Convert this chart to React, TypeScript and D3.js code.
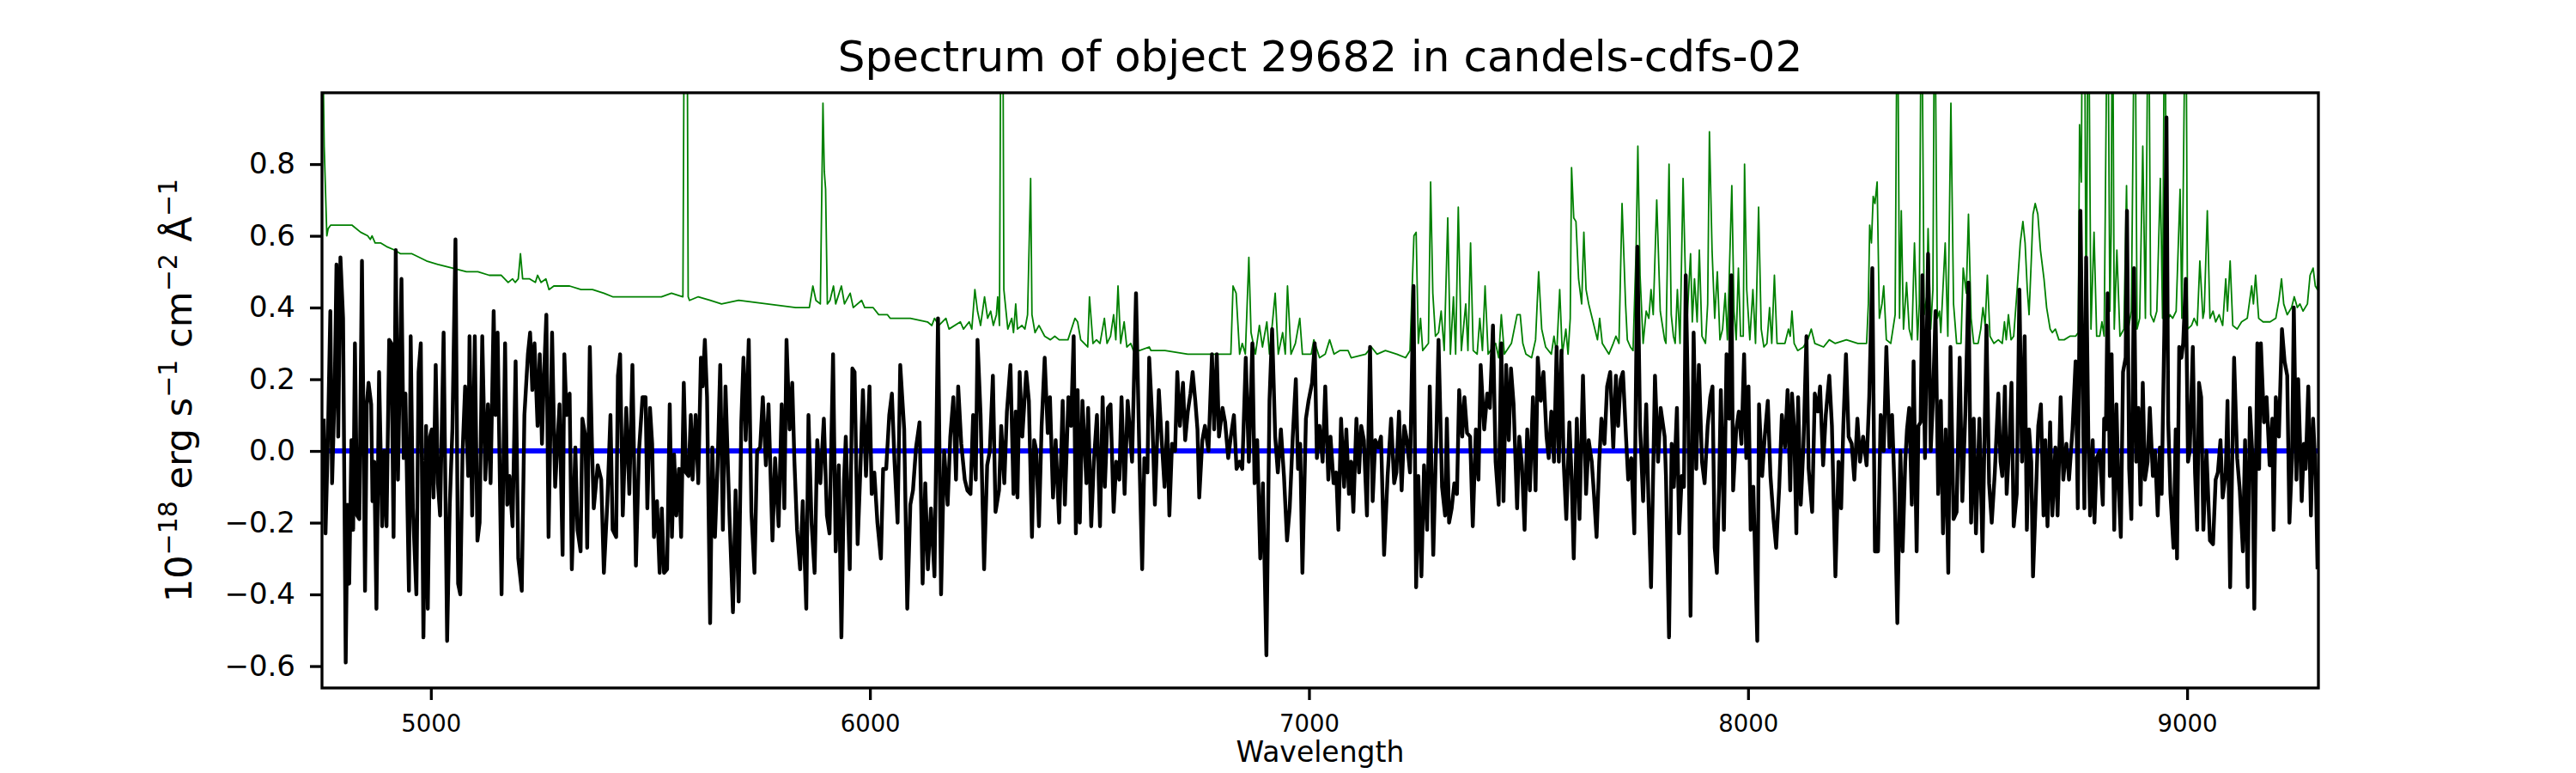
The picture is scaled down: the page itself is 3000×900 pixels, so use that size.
import { useEffect, useRef } from 'react';
import * as d3 from 'd3';

const WIDTH = 3000;
const HEIGHT = 900;
const margin = { top: 108, right: 300, bottom: 99, left: 375 };

const chartTitle = 'Spectrum of object 29682 in candels-cdfs-02';
const xLabel = 'Wavelength';

const wavelengthRange = [4752, 9299];
const fluxRange = [-0.661, 0.999];
const xTicks = [5000, 6000, 7000, 8000, 9000];
const yTicks = [-0.6, -0.4, -0.2, 0, 0.2, 0.4, 0.6, 0.8];

// [wavelength, flux]
const objectFlux: [number, number][] = [
  [4756, 0.09], [4760, -0.23], [4765, 0.01], [4771, 0.39], [4775, -0.09], [4781, 0.18], [4785, 0.52], [4789, 0.04],
  [4794, 0.54], [4800, 0.37], [4806, -0.59], [4810, -0.15], [4814, -0.37], [4819, 0.03], [4823, -0.22], [4827, 0.3],
  [4832, -0.18], [4837, -0.19], [4843, 0.53], [4850, -0.39], [4854, 0.13], [4858, 0.19], [4864, 0.13], [4867, -0.14],
  [4871, -0.03], [4876, -0.44], [4882, 0.22], [4889, -0.21], [4894, 0.0], [4899, -0.21], [4905, 0.31], [4910, 0.3],
  [4915, -0.24], [4920, 0.56], [4925, -0.08], [4933, 0.48], [4938, -0.02], [4942, 0.16], [4950, -0.39], [4954, 0.32],
  [4959, -0.16], [4967, -0.4], [4972, 0.22], [4977, 0.3], [4983, -0.52], [4989, 0.07], [4993, -0.44], [4998, 0.04],
  [5002, 0.06], [5006, -0.13], [5011, 0.24], [5016, -0.09], [5021, -0.18], [5029, 0.33], [5037, -0.53], [5043, -0.15],
  [5049, 0.06], [5056, 0.59], [5062, -0.37], [5067, -0.4], [5072, -0.01], [5078, 0.18], [5085, -0.07], [5088, 0.32],
  [5094, -0.18], [5100, 0.32], [5106, -0.25], [5111, -0.2], [5117, 0.32], [5124, -0.08], [5130, 0.13], [5136, -0.09],
  [5143, 0.39], [5147, 0.1], [5152, 0.33], [5161, -0.4], [5169, 0.3], [5174, -0.15], [5179, -0.07], [5186, -0.21],
  [5193, 0.25], [5199, -0.3], [5207, -0.39], [5213, 0.1], [5221, 0.27], [5226, 0.33], [5231, 0.17], [5236, 0.3],
  [5243, 0.07], [5248, 0.27], [5253, 0.02], [5257, 0.19], [5263, 0.38], [5268, -0.24], [5276, 0.33], [5283, -0.1],
  [5293, 0.13], [5300, -0.29], [5304, 0.27], [5309, 0.1], [5316, 0.16], [5321, -0.33], [5329, 0.01], [5334, -0.22],
  [5341, -0.28], [5345, 0.09], [5352, 0.04], [5356, -0.27], [5362, 0.29], [5367, 0.01], [5371, -0.16], [5380, -0.04],
  [5388, -0.08], [5394, -0.34], [5402, -0.14], [5409, 0.1], [5414, -0.22], [5422, -0.24], [5426, 0.21], [5431, 0.27],
  [5437, -0.18], [5445, 0.12], [5452, -0.12], [5459, 0.24], [5467, -0.32], [5474, 0.0], [5482, 0.15], [5489, 0.15],
  [5493, -0.16], [5499, 0.12], [5504, 0.02], [5508, -0.24], [5515, -0.14], [5521, -0.34],
  [5526, -0.16], [5531, -0.34], [5538, -0.33], [5544, 0.13], [5549, -0.24], [5554, -0.01], [5559, -0.18], [5565, -0.05],
  [5570, -0.24], [5576, 0.19], [5581, -0.06], [5587, -0.07], [5592, 0.1], [5596, -0.08], [5603, 0.1], [5609, -0.09],
  [5615, 0.26], [5619, 0.18], [5624, 0.31], [5629, 0.15], [5636, -0.48], [5641, 0.01], [5647, -0.24], [5653, -0.04],
  [5659, 0.24], [5665, -0.22], [5671, 0.18], [5680, -0.18], [5688, -0.45], [5694, -0.11], [5701, -0.42], [5707, 0.08],
  [5712, 0.26], [5717, 0.03], [5724, 0.31], [5730, -0.17], [5737, -0.34], [5743, 0.0], [5750, 0.01], [5756, 0.15],
  [5763, -0.04], [5769, 0.13], [5778, -0.25], [5784, -0.02], [5792, -0.21], [5799, 0.13], [5805, -0.16], [5810, 0.31],
  [5817, 0.06], [5823, 0.19], [5828, -0.03], [5834, -0.22], [5841, -0.33], [5847, -0.14], [5855, -0.44], [5860, 0.1],
  [5867, -0.2], [5874, -0.34], [5880, 0.03], [5887, -0.09], [5895, 0.09], [5902, -0.18], [5908, -0.23], [5916, 0.27],
  [5922, -0.28], [5929, -0.04], [5935, -0.52], [5941, -0.08], [5945, 0.04], [5954, -0.33], [5960, 0.23], [5965, 0.22],
  [5972, -0.26], [5978, -0.06], [5984, 0.17], [5991, -0.07], [5999, 0.18], [6004, -0.12], [6010, -0.06], [6017, -0.2],
  [6025, -0.3], [6030, -0.05], [6037, -0.05], [6044, 0.1], [6050, 0.16], [6056, -0.03], [6063, -0.2], [6069, 0.24],
  [6078, 0.06], [6085, -0.44], [6092, -0.15], [6098, -0.11], [6105, 0.01], [6113, 0.08], [6120, -0.37], [6126, -0.09],
  [6132, -0.33], [6139, -0.16], [6147, -0.35], [6155, 0.37], [6162, -0.4], [6169, 0.0], [6177, -0.15], [6183, 0.04],
  [6190, 0.15], [6196, -0.08], [6201, 0.18], [6208, 0.02], [6216, -0.08], [6222, -0.11], [6229, -0.12], [6235, 0.1],
  [6241, -0.08], [6245, 0.31], [6252, 0.1], [6260, -0.33], [6267, -0.04], [6273, 0.0], [6280, 0.21], [6286, -0.17],
  [6294, -0.11], [6299, 0.07], [6306, -0.09], [6312, 0.11], [6320, 0.24], [6327, -0.12], [6332, 0.11], [6336, -0.13],
  [6341, 0.22], [6347, 0.04], [6356, 0.22], [6362, 0.14], [6369, -0.24], [6374, 0.03], [6379, 0.0], [6385, -0.21],
  [6391, 0.07], [6398, 0.26], [6405, 0.05], [6410, 0.15], [6417, -0.13], [6423, 0.03], [6431, -0.2], [6439, 0.14],
  [6444, -0.15], [6452, 0.15], [6458, 0.07], [6464, 0.32], [6469, -0.23], [6473, 0.17], [6478, -0.2], [6484, 0.14],
  [6493, -0.09], [6497, 0.12], [6504, -0.21], [6510, -0.03], [6517, 0.1], [6524, -0.21], [6530, 0.15], [6535, -0.1],
  [6542, 0.12], [6548, 0.13], [6555, -0.17], [6561, -0.03], [6568, -0.08], [6573, 0.15], [6580, -0.12], [6587, 0.14],
  [6597, -0.03], [6606, 0.44], [6614, -0.03], [6620, -0.33], [6625, -0.02], [6632, -0.06], [6636, 0.26], [6643, 0.09],
  [6649, -0.15], [6658, 0.17], [6664, 0.04], [6671, -0.1], [6677, 0.08], [6682, -0.18], [6688, 0.02], [6695, 0.0],
  [6700, 0.22], [6706, 0.07], [6713, 0.19], [6718, 0.03], [6724, 0.11], [6730, 0.16], [6735, 0.22], [6741, 0.14],
  [6746, 0.06], [6750, -0.13], [6757, 0.03], [6763, 0.07], [6771, 0.0], [6779, 0.27], [6784, 0.06], [6790, 0.27],
  [6795, 0.04], [6803, 0.12], [6809, 0.08], [6816, -0.02], [6822, 0.04], [6829, 0.1], [6835, -0.05], [6842, -0.03],
  [6848, -0.05], [6856, 0.26], [6863, -0.03], [6871, 0.3], [6876, -0.09], [6882, 0.03], [6889, -0.3], [6895, -0.09],
  [6903, -0.57], [6910, 0.14], [6916, 0.34], [6923, 0.04], [6929, -0.06], [6936, 0.06], [6943, -0.07], [6950, -0.25],
  [6956, -0.16], [6963, 0.04], [6970, 0.2], [6975, -0.05], [6980, 0.02], [6985, -0.34], [6993, 0.09], [6999, 0.14],
  [7007, 0.19], [7013, 0.3], [7018, -0.02], [7024, 0.07], [7031, -0.03], [7037, 0.18], [7044, -0.08], [7049, 0.04],
  [7056, -0.09], [7062, -0.06], [7067, -0.22], [7073, 0.09], [7080, -0.1], [7085, 0.06], [7091, -0.12], [7096, -0.03],
  [7101, -0.17], [7108, 0.09], [7114, -0.06], [7119, 0.07], [7125, 0.03], [7132, -0.18], [7139, 0.29], [7145, -0.14],
  [7151, 0.03], [7158, 0.01], [7164, 0.04], [7171, -0.29], [7179, -0.07], [7187, 0.09], [7194, -0.09], [7199, -0.06],
  [7205, 0.11], [7211, -0.11], [7217, 0.07], [7223, 0.03], [7230, -0.06], [7238, 0.46], [7244, -0.38], [7249, -0.07],
  [7256, -0.35], [7262, -0.04], [7269, -0.22], [7275, 0.18], [7283, -0.29], [7290, 0.04], [7295, 0.31], [7303, -0.1],
  [7310, -0.18], [7314, 0.09], [7319, -0.2], [7325, -0.16], [7331, -0.09], [7337, -0.12], [7342, 0.17], [7349, 0.04],
  [7354, 0.15], [7360, 0.05], [7367, 0.04], [7373, -0.21], [7380, 0.06], [7386, -0.08], [7391, 0.24], [7399, 0.06],
  [7406, 0.16], [7412, 0.12], [7419, 0.35], [7425, -0.03], [7432, -0.15], [7438, 0.3], [7443, -0.14], [7449, 0.24],
  [7455, 0.03], [7460, 0.23], [7466, 0.13], [7474, -0.16], [7479, 0.04], [7485, -0.04], [7491, -0.22], [7497, 0.06],
  [7503, -0.11], [7510, 0.15], [7516, -0.11], [7521, 0.26], [7528, 0.14], [7534, 0.22], [7541, 0.04], [7546, -0.02],
  [7552, 0.11], [7558, -0.03], [7564, 0.29], [7569, -0.03], [7575, 0.28], [7580, -0.03], [7586, -0.19], [7593, 0.08],
  [7598, -0.07], [7603, -0.3], [7610, 0.09], [7616, -0.19], [7624, 0.21], [7631, -0.12], [7637, 0.03], [7644, -0.03],
  [7649, -0.12], [7655, -0.24], [7661, -0.03], [7666, 0.09], [7673, 0.02], [7679, 0.18], [7686, 0.22], [7693, 0.01],
  [7699, 0.21], [7704, 0.07], [7710, 0.2], [7715, 0.22], [7722, 0.04], [7727, -0.08], [7734, -0.02], [7741, -0.23],
  [7748, 0.57], [7754, 0.07], [7761, -0.14], [7768, 0.13], [7773, -0.13], [7779, -0.38], [7788, 0.21], [7795, -0.03],
  [7801, 0.12], [7810, 0.04],
  [7813, -0.07], [7820, -0.52], [7826, 0.02], [7831, -0.1], [7838, 0.12], [7843, -0.23], [7849, -0.07], [7854, -0.1],
  [7858, 0.49], [7864, 0.09], [7869, -0.46], [7876, 0.33], [7882, -0.05], [7888, 0.24], [7895, -0.03], [7901, -0.09],
  [7908, 0.07], [7914, 0.15], [7919, 0.18], [7924, -0.27], [7929, -0.34], [7934, -0.1], [7938, 0.17], [7945, -0.22],
  [7951, 0.27], [7957, 0.09], [7962, 0.49], [7966, -0.11], [7973, 0.06], [7979, 0.11], [7985, 0.02], [7991, 0.27],
  [7996, -0.02], [8001, 0.18], [8006, -0.22], [8012, -0.1], [8021, -0.53], [8025, 0.13], [8032, -0.07], [8038, 0.04],
  [8045, 0.14], [8051, -0.07], [8058, -0.19], [8064, -0.27], [8071, -0.1], [8077, 0.1], [8084, 0.01], [8090, 0.17],
  [8096, -0.11], [8100, 0.16], [8105, 0.06], [8110, -0.23], [8114, 0.15], [8120, -0.15], [8126, 0.01], [8133, 0.32],
  [8138, -0.05], [8146, -0.17], [8152, 0.16], [8159, 0.11], [8164, 0.18], [8171, -0.04], [8177, 0.1], [8185, 0.21],
  [8191, 0.07], [8199, -0.35], [8206, -0.03], [8212, -0.16], [8217, 0.07], [8223, 0.27], [8229, 0.04], [8236, 0.02],
  [8242, -0.08], [8249, 0.09], [8255, -0.03], [8262, 0.04], [8270, -0.04], [8276, 0.15], [8283, 0.51], [8289, -0.28],
  [8296, -0.28], [8302, 0.1], [8309, 0.0], [8315, 0.29], [8322, 0.01], [8328, 0.1], [8334, -0.12], [8340, -0.48],
  [8347, 0.0], [8352, -0.28], [8358, -0.03], [8362, 0.06], [8367, 0.12], [8373, -0.15], [8377, 0.25], [8384, -0.28],
  [8388, 0.07], [8393, 0.08], [8397, 0.49], [8403, -0.02], [8410, 0.55], [8416, 0.0], [8421, 0.14], [8427, 0.39],
  [8433, -0.12], [8439, 0.14], [8444, -0.23], [8450, 0.06], [8456, -0.34], [8461, 0.29], [8468, -0.19], [8475, -0.17],
  [8482, 0.26], [8488, -0.14], [8495, 0.11], [8502, 0.47], [8508, -0.2], [8514, 0.09], [8519, -0.23], [8527, 0.09],
  [8534, -0.28], [8543, 0.35], [8549, -0.09], [8555, -0.2], [8562, -0.06], [8570, 0.16], [8575, -0.03],
  [8579, -0.07], [8585, 0.18], [8589, -0.12], [8596, 0.05], [8600, 0.19], [8605, -0.21], [8612, -0.12], [8618, 0.45],
  [8624, -0.03], [8630, 0.32], [8635, -0.22], [8640, 0.06], [8645, -0.03], [8649, -0.35], [8654, -0.18], [8661, 0.07],
  [8667, 0.13], [8673, -0.18], [8677, 0.03], [8682, -0.21], [8688, 0.08], [8693, -0.18], [8700, 0.01], [8705, -0.18],
  [8712, 0.15], [8718, -0.08], [8725, 0.02], [8731, -0.08], [8739, 0.06], [8746, 0.25], [8751, -0.16], [8757, 0.67],
  [8762, 0.19], [8766, -0.16], [8770, 0.54], [8775, 0.04], [8779, -0.18], [8785, 0.03], [8789, -0.2], [8794, -0.02],
  [8801, 0.0], [8808, -0.15], [8811, 0.09], [8815, 0.06], [8819, 0.44], [8824, -0.07], [8828, 0.27], [8834, -0.22],
  [8839, 0.13], [8843, -0.07], [8849, -0.24], [8854, 0.22], [8860, 0.26], [8863, 0.67], [8868, -0.05], [8873, -0.19],
  [8879, 0.51], [8884, -0.03], [8889, 0.12], [8894, -0.15], [8899, 0.19], [8904, -0.08], [8910, -0.03], [8915, 0.12],
  [8922, -0.07], [8927, 0.0], [8933, -0.18], [8938, 0.01], [8942, -0.12], [8948, 0.33], [8953, 0.93], [8957, 0.08],
  [8962, -0.12], [8969, -0.27], [8974, 0.06], [8977, -0.3], [8982, 0.29], [8987, 0.26], [8991, 0.3], [8997, 0.48],
  [9002, -0.03], [9006, 0.0], [9013, 0.29], [9018, -0.06], [9023, -0.22], [9027, 0.19], [9032, 0.15], [9037, -0.22],
  [9044, 0.0], [9052, -0.25], [9059, -0.26], [9065, -0.08], [9070, -0.06], [9076, 0.03], [9081, -0.13], [9088, -0.06],
  [9092, 0.14], [9098, -0.38], [9103, -0.01], [9107, 0.26], [9114, -0.02], [9120, -0.11], [9127, -0.28], [9132, 0.03],
  [9138, -0.38], [9143, 0.12], [9149, -0.02], [9153, -0.44], [9160, 0.3], [9164, -0.05], [9168, 0.3], [9175, 0.08],
  [9181, 0.15], [9188, -0.04], [9194, 0.09], [9197, -0.22], [9202, 0.15], [9209, 0.04], [9216, 0.34], [9222, 0.25],
  [9228, 0.21], [9233, -0.2], [9239, -0.02], [9243, 0.4], [9249, -0.08], [9253, 0.2], [9261, -0.14], [9266, 0.02],
  [9270, -0.05], [9276, 0.18], [9282, -0.18], [9287, 0.09], [9293, -0.07], [9297, -0.33],
];

// [wavelength, flux] of the green curve (sky / noise spectrum)
const skySpectrum: [number, number][] = [
  [4752, 1.3], [4757, 0.85], [4763, 0.6], [4766, 0.62], [4772, 0.63], [4781, 0.63], [4801, 0.63], [4820, 0.63],
  [4840, 0.61], [4856, 0.6], [4862, 0.59], [4866, 0.6], [4873, 0.58], [4886, 0.58], [4899, 0.57], [4918, 0.56],
  [4931, 0.55], [4957, 0.55], [4990, 0.53], [5016, 0.52], [5049, 0.51], [5081, 0.5], [5107, 0.5], [5133, 0.49],
  [5160, 0.49], [5176, 0.47], [5186, 0.48], [5192, 0.47], [5199, 0.48], [5204, 0.55], [5209, 0.48], [5225, 0.48],
  [5238, 0.47], [5243, 0.49], [5251, 0.47], [5262, 0.48], [5269, 0.45], [5280, 0.46], [5296, 0.46], [5316, 0.46],
  [5342, 0.45], [5368, 0.45], [5394, 0.44], [5414, 0.43], [5459, 0.43], [5525, 0.43], [5548, 0.44], [5574, 0.43],
  [5578, 1.5], [5583, 1.5], [5586, 0.43], [5589, 0.42], [5609, 0.43], [5636, 0.42], [5662, 0.41], [5701, 0.42],
  [5766, 0.41], [5831, 0.4], [5862, 0.4], [5870, 0.46], [5877, 0.42], [5887, 0.41], [5893, 0.97], [5896, 0.78],
  [5899, 0.73], [5903, 0.41], [5909, 0.42], [5917, 0.46], [5922, 0.41], [5935, 0.46], [5942, 0.41], [5955, 0.44],
  [5962, 0.4], [5981, 0.42], [5988, 0.4], [6007, 0.4], [6020, 0.38], [6040, 0.38], [6046, 0.37], [6092, 0.37],
  [6131, 0.36], [6141, 0.35], [6147, 0.37], [6157, 0.35], [6173, 0.37], [6180, 0.34], [6206, 0.36], [6213, 0.34],
  [6226, 0.36], [6232, 0.34], [6239, 0.45], [6245, 0.39], [6252, 0.35], [6261, 0.43], [6268, 0.37], [6275, 0.39],
  [6281, 0.35], [6288, 0.38], [6291, 0.43], [6295, 0.35], [6299, 1.5], [6302, 1.5], [6305, 0.45], [6314, 0.34],
  [6323, 0.37], [6327, 0.33], [6332, 0.41], [6336, 0.34], [6346, 0.35], [6353, 0.34], [6359, 0.38], [6366, 0.76],
  [6369, 0.38], [6376, 0.33], [6385, 0.35], [6398, 0.32], [6411, 0.31], [6421, 0.32], [6431, 0.31], [6451, 0.31],
  [6467, 0.37], [6473, 0.36], [6480, 0.31], [6496, 0.29], [6500, 0.43], [6508, 0.3], [6516, 0.31], [6524, 0.3],
  [6534, 0.37], [6540, 0.3], [6548, 0.32], [6555, 0.38], [6560, 0.31], [6565, 0.46], [6571, 0.3], [6579, 0.36],
  [6585, 0.29], [6594, 0.3], [6600, 0.28], [6614, 0.28], [6636, 0.29], [6640, 0.28], [6672, 0.28], [6724, 0.27],
  [6763, 0.27], [6822, 0.27], [6827, 0.46], [6834, 0.44], [6842, 0.27], [6848, 0.3], [6855, 0.27], [6863, 0.54],
  [6868, 0.33], [6878, 0.27], [6887, 0.35], [6894, 0.29], [6904, 0.36], [6910, 0.27], [6923, 0.44], [6930, 0.27],
  [6940, 0.33], [6946, 0.27], [6951, 0.46], [6959, 0.27], [6969, 0.3], [6979, 0.37], [6985, 0.27], [7005, 0.27],
  [7011, 0.31], [7024, 0.26], [7037, 0.27], [7047, 0.31], [7057, 0.27], [7070, 0.28], [7089, 0.28], [7096, 0.26],
  [7129, 0.27], [7142, 0.29], [7155, 0.27], [7174, 0.28], [7200, 0.27], [7220, 0.26], [7230, 0.28], [7239, 0.6],
  [7244, 0.61], [7249, 0.3], [7254, 0.37], [7259, 0.28], [7272, 0.3], [7277, 0.75], [7282, 0.44], [7288, 0.32],
  [7295, 0.33], [7301, 0.39], [7308, 0.28], [7316, 0.65], [7322, 0.27], [7329, 0.43], [7334, 0.27], [7340, 0.68],
  [7347, 0.28], [7357, 0.41], [7362, 0.28], [7368, 0.58], [7374, 0.28], [7383, 0.27], [7389, 0.37], [7395, 0.28],
  [7401, 0.46], [7408, 0.27], [7419, 0.29], [7425, 0.3], [7432, 0.26], [7438, 0.38], [7445, 0.27], [7461, 0.3],
  [7474, 0.38], [7481, 0.38], [7487, 0.3], [7494, 0.27], [7507, 0.26], [7516, 0.31], [7523, 0.5], [7530, 0.34],
  [7539, 0.29], [7552, 0.27], [7558, 0.32], [7564, 0.27], [7571, 0.45], [7577, 0.27], [7585, 0.34], [7590, 0.27],
  [7595, 0.37], [7598, 0.79], [7603, 0.65], [7608, 0.64], [7614, 0.48], [7621, 0.41], [7626, 0.61], [7631, 0.45],
  [7637, 0.41], [7647, 0.36], [7657, 0.31], [7662, 0.37], [7668, 0.3], [7683, 0.27], [7693, 0.3], [7699, 0.32],
  [7706, 0.3], [7713, 0.69], [7721, 0.41], [7725, 0.31], [7732, 0.29], [7738, 0.28], [7745, 0.56], [7749, 0.85],
  [7754, 0.49], [7761, 0.3], [7768, 0.39], [7774, 0.37], [7779, 0.45], [7784, 0.38], [7792, 0.7], [7800, 0.39],
  [7810, 0.31], [7813, 0.3], [7820, 0.8], [7825, 0.38], [7830, 0.32], [7834, 0.3], [7839, 0.45], [7845, 0.3],
  [7852, 0.76], [7857, 0.5], [7861, 0.36], [7869, 0.55], [7873, 0.36], [7878, 0.48], [7884, 0.36], [7889, 0.56],
  [7895, 0.32], [7903, 0.3], [7908, 0.41], [7912, 0.89], [7918, 0.56], [7924, 0.37], [7930, 0.5], [7936, 0.31],
  [7942, 0.34], [7948, 0.44], [7953, 0.31], [7963, 0.74], [7968, 0.39], [7973, 0.31], [7978, 0.51], [7983, 0.32],
  [7989, 0.32], [7992, 0.8], [7997, 0.45], [8004, 0.31], [8011, 0.45], [8017, 0.3], [8024, 0.68], [8030, 0.34],
  [8036, 0.29], [8043, 0.3], [8049, 0.4], [8054, 0.3], [8060, 0.49], [8066, 0.3], [8074, 0.3], [8084, 0.3],
  [8092, 0.34], [8096, 0.32], [8100, 0.39], [8105, 0.3], [8113, 0.28], [8126, 0.29], [8136, 0.31], [8144, 0.34],
  [8152, 0.3], [8172, 0.29], [8185, 0.31], [8198, 0.3], [8224, 0.31], [8250, 0.3], [8270, 0.3], [8274, 0.41],
  [8277, 0.63], [8281, 0.58], [8285, 0.71], [8289, 0.69], [8294, 0.75], [8299, 0.37], [8305, 0.41], [8309, 0.46],
  [8315, 0.31], [8325, 0.3], [8335, 0.38], [8340, 1.4], [8345, 0.37], [8349, 0.67], [8354, 0.34], [8361, 0.47],
  [8367, 0.34], [8373, 0.31], [8379, 0.58], [8386, 0.31], [8390, 0.41], [8395, 1.4], [8401, 0.38], [8407, 0.43],
  [8410, 0.62], [8416, 0.34], [8421, 0.45], [8425, 1.4], [8431, 0.37], [8436, 0.39], [8439, 0.33], [8449, 0.58],
  [8455, 0.32], [8462, 0.97], [8468, 0.41], [8475, 0.3], [8485, 0.3], [8490, 0.51], [8497, 0.44], [8502, 0.66],
  [8508, 0.37], [8514, 0.3], [8524, 0.3], [8530, 0.34], [8535, 0.4], [8540, 0.35], [8545, 0.49], [8551, 0.32],
  [8560, 0.3], [8570, 0.31], [8579, 0.3], [8584, 0.36], [8588, 0.31], [8593, 0.38], [8599, 0.31], [8605, 0.32],
  [8614, 0.47], [8620, 0.58], [8626, 0.64], [8631, 0.58], [8636, 0.45], [8640, 0.38], [8645, 0.53], [8649, 0.66],
  [8654, 0.69], [8660, 0.66], [8666, 0.56], [8674, 0.48], [8680, 0.4], [8688, 0.34], [8693, 0.33], [8700, 0.34],
  [8708, 0.31], [8720, 0.31], [8733, 0.32], [8746, 0.32], [8752, 0.33], [8755, 0.91], [8759, 0.75], [8762, 1.4],
  [8766, 1.4], [8770, 0.32], [8775, 1.4], [8781, 0.34], [8788, 0.61], [8794, 0.32], [8801, 0.32], [8806, 0.36],
  [8811, 0.32], [8819, 1.4], [8824, 0.39], [8827, 0.61], [8830, 1.4], [8834, 0.34], [8840, 0.56], [8847, 0.32],
  [8856, 0.34], [8862, 0.74], [8866, 0.34], [8873, 0.39], [8881, 1.4], [8886, 0.34], [8892, 0.37], [8899, 0.85],
  [8905, 0.37], [8912, 1.4], [8917, 0.38], [8924, 0.36], [8931, 0.39], [8939, 0.76], [8944, 0.37], [8949, 1.4],
  [8954, 0.36], [8961, 0.38], [8967, 0.37], [8975, 0.39], [8984, 0.73], [8988, 0.37], [8997, 1.4], [9001, 0.34],
  [9010, 0.35], [9016, 0.37], [9023, 0.35], [9029, 0.53], [9036, 0.37], [9039, 0.39], [9046, 0.67], [9052, 0.37],
  [9059, 0.39], [9065, 0.36], [9073, 0.38], [9081, 0.35], [9088, 0.48], [9092, 0.39], [9098, 0.53], [9104, 0.35],
  [9114, 0.34], [9124, 0.36], [9137, 0.37], [9147, 0.46], [9151, 0.41], [9156, 0.49], [9163, 0.37], [9173, 0.36],
  [9189, 0.36], [9202, 0.37], [9209, 0.42], [9215, 0.48], [9220, 0.41], [9228, 0.38], [9238, 0.4], [9244, 0.43],
  [9251, 0.4], [9257, 0.41], [9264, 0.39], [9274, 0.41], [9280, 0.49], [9287, 0.51], [9292, 0.46], [9297, 0.45],
  [9299, 0.5],
];

// blue model line sits on zero over the full range
const modelFlux: [number, number][] = [
  [4752, 0],
  [9299, 0],
];

const FONT = 'DejaVu Sans, Liberation Sans, sans-serif';

const SpectrumChart = () => {
  const svgRef = useRef<SVGSVGElement | null>(null);

  useEffect(() => {
    if (!svgRef.current) return;
    const svg = d3.select(svgRef.current);
    svg.selectAll('*').remove();

    const x = d3.scaleLinear(wavelengthRange, [margin.left, WIDTH - margin.right]);
    const y = d3.scaleLinear(fluxRange, [HEIGHT - margin.bottom, margin.top]);
    const plotW = WIDTH - margin.left - margin.right;
    const plotH = HEIGHT - margin.top - margin.bottom;

    svg.append('rect').attr('width', WIDTH).attr('height', HEIGHT).attr('fill', '#ffffff');

    svg
      .append('defs')
      .append('clipPath')
      .attr('id', 'plot-clip')
      .append('rect')
      .attr('x', margin.left)
      .attr('y', margin.top)
      .attr('width', plotW)
      .attr('height', plotH);

    const line = d3
      .line<[number, number]>()
      .x(d => x(d[0]))
      .y(d => y(d[1]));

    const plot = svg.append('g').attr('clip-path', 'url(#plot-clip)');

    plot
      .append('path')
      .attr('d', line(skySpectrum))
      .attr('fill', 'none')
      .attr('stroke', '#008000')
      .attr('stroke-width', 1.8)
      .attr('stroke-linejoin', 'round');

    plot
      .append('path')
      .attr('d', line(modelFlux))
      .attr('fill', 'none')
      .attr('stroke', '#0000ff')
      .attr('stroke-width', 6);

    plot
      .append('path')
      .attr('d', line(objectFlux))
      .attr('fill', 'none')
      .attr('stroke', '#000000')
      .attr('stroke-width', 4.4)
      .attr('stroke-linejoin', 'round');

    // axes
    const xAxis = d3
      .axisBottom(x)
      .tickValues(xTicks)
      .tickFormat(d3.format('d'))
      .tickSize(14)
      .tickSizeOuter(0)
      .tickPadding(17);

    svg
      .append('g')
      .attr('transform', `translate(0,${HEIGHT - margin.bottom})`)
      .call(xAxis)
      .attr('color', '#000')
      .attr('font-family', FONT)
      .attr('font-size', 27.5)
      .call(g => g.select('.domain').remove())
      .call(g => g.selectAll('.tick line').attr('stroke-width', 3.3));

    const yAxis = d3
      .axisLeft(y)
      .tickValues(yTicks)
      .tickFormat(d3.format('.1f'))
      .tickSize(14)
      .tickSizeOuter(0)
      .tickPadding(17);

    svg
      .append('g')
      .attr('transform', `translate(${margin.left},0)`)
      .call(yAxis)
      .attr('color', '#000')
      .attr('font-family', FONT)
      .attr('font-size', 34)
      .call(g => g.select('.domain').remove())
      .call(g => g.selectAll('.tick line').attr('stroke-width', 3.3));

    // frame
    svg
      .append('rect')
      .attr('x', margin.left)
      .attr('y', margin.top)
      .attr('width', plotW)
      .attr('height', plotH)
      .attr('fill', 'none')
      .attr('stroke', '#000')
      .attr('stroke-width', 3.3);

    svg
      .append('text')
      .attr('x', (margin.left + WIDTH - margin.right) / 2)
      .attr('y', 83)
      .attr('text-anchor', 'middle')
      .attr('font-family', FONT)
      .attr('font-size', 50)
      .text(chartTitle);

    svg
      .append('text')
      .attr('x', (margin.left + WIDTH - margin.right) / 2)
      .attr('y', 887)
      .attr('text-anchor', 'middle')
      .attr('font-family', FONT)
      .attr('font-size', 33)
      .text(xLabel);

    // y label with superscripts
    const yl = svg
      .append('text')
      .attr('transform', `translate(223,${margin.top + plotH / 2}) rotate(-90)`)
      .attr('text-anchor', 'middle')
      .attr('font-family', FONT)
      .attr('font-size', 43);
    const parts: [string, boolean][] = [
      ['10', false],
      ['\u221218', true],
      [' erg s', false],
      ['\u22121', true],
      [' cm', false],
      ['\u22122', true],
      [' \u00c5', false],
      ['\u22121', true],
    ];
    let raised = false;
    parts.forEach(([txt, sup]) => {
      const t = yl.append('tspan').text(txt);
      if (sup) {
        t.attr('font-size', 30).attr('dy', raised ? 0 : -17);
        raised = true;
      } else {
        t.attr('dy', raised ? 17 : 0);
        raised = false;
      }
    });
  }, []);

  return <svg ref={svgRef} width={WIDTH} height={HEIGHT} style={{ display: 'block' }} />;
};

export default function App() {
  return (
    <div style={{ position: 'absolute', left: 0, top: 0, width: WIDTH, height: HEIGHT, background: '#fff' }}>
      <SpectrumChart />
    </div>
  );
}
